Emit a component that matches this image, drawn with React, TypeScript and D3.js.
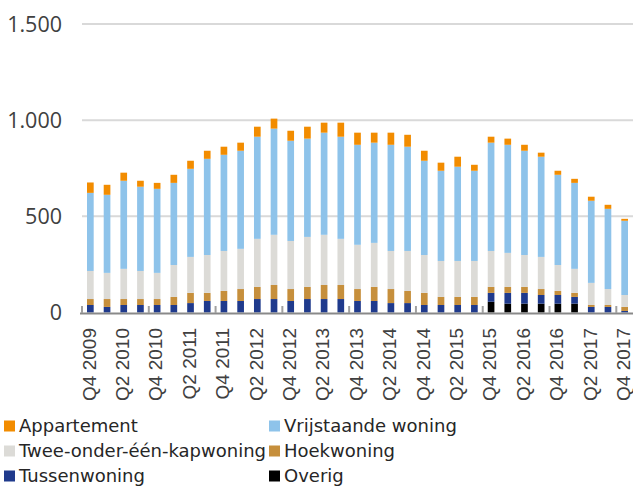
import React, { useRef, useEffect } from "react";
import * as d3 from "d3";

// quarters Q4 2009 .. Q4 2017
const quarters: string[] = [];
for (let y = 2009; y <= 2017; y++) {
  for (let q = 1; q <= 4; q++) {
    if (y === 2009 && q < 4) continue;
    quarters.push(`Q${q} ${y}`);
  }
}

// series values (bottom to top in the stack)
const overig = [0, 0, 0, 0, 0, 0, 0, 0, 0, 0, 0, 0, 0, 0, 0, 0, 0, 0, 0, 0, 0, 0, 0, 0, 56, 46, 46, 46, 46, 46, 0, 0, 0];
const tussenwoning = [39, 29, 39, 39, 39, 39, 49, 60, 60, 60, 70, 70, 60, 70, 70, 70, 60, 60, 49, 49, 39, 39, 39, 39, 46, 56, 56, 45, 45, 35, 29, 29, 8];
const hoekwoning = [31, 41, 31, 31, 31, 42, 53, 42, 52, 62, 63, 73, 62, 63, 73, 73, 62, 73, 73, 63, 63, 42, 42, 42, 31, 31, 31, 31, 21, 21, 10, 10, 21];
const tweeOnderEenKap = [146, 136, 157, 146, 136, 166, 187, 197, 208, 209, 250, 261, 250, 260, 261, 240, 230, 229, 198, 208, 197, 187, 187, 187, 187, 177, 166, 167, 135, 125, 115, 83, 62];
const vrijstaand = [406, 406, 458, 438, 437, 427, 458, 500, 500, 510, 531, 552, 521, 511, 531, 531, 520, 521, 552, 542, 490, 469, 490, 469, 563, 562, 542, 521, 469, 447, 427, 417, 386];
const appartement = [54, 52, 42, 31, 31, 42, 42, 42, 42, 42, 52, 52, 52, 62, 52, 73, 63, 52, 63, 62, 52, 42, 52, 31, 31, 32, 31, 21, 21, 21, 21, 21, 10];

const yTicks = [0, 500, 1000, 1500];

const seriesKeys = ["Overig", "Tussenwoning", "Hoekwoning", "Twee-onder-één-kapwoning", "Vrijstaande woning", "Appartement"];
const seriesColors: Record<string, string> = {
  Overig: "#000000",
  Tussenwoning: "#1f3a8c",
  Hoekwoning: "#c68f3c",
  "Twee-onder-één-kapwoning": "#dcdbd7",
  "Vrijstaande woning": "#8ec3ea",
  Appartement: "#f28c00",
};
// legend order as in the picture (row by row)
const legendOrder = ["Appartement", "Vrijstaande woning", "Twee-onder-één-kapwoning", "Hoekwoning", "Tussenwoning", "Overig"];

const App = () => {
  const svgRef = useRef<SVGSVGElement>(null);

  useEffect(() => {
    const svg = d3.select(svgRef.current);
    const width = 633;
    const height = 486;
    svg.attr("width", width).attr("height", height);
    svg.selectAll("*").remove();

    const rows = quarters.map((q, i) => ({
      q,
      Overig: overig[i],
      Tussenwoning: tussenwoning[i],
      Hoekwoning: hoekwoning[i],
      "Twee-onder-één-kapwoning": tweeOnderEenKap[i],
      "Vrijstaande woning": vrijstaand[i],
      Appartement: appartement[i],
    }));

    const stacked = d3.stack<any>().keys(seriesKeys)(rows);

    const x = d3.scaleBand().domain(quarters).range([82, 633]).paddingInner(0.6).paddingOuter(0.3);
    const y = d3.scaleLinear().domain([0, 1500]).range([312.5, 24]);

    const nl = d3.formatLocale({ decimal: ",", thousands: ".", grouping: [3], currency: ["€", ""] });
    const fmt = nl.format(",");

    // gridlines
    svg
      .append("g")
      .selectAll("line")
      .data(yTicks.filter((d) => d > 0))
      .join("line")
      .attr("x1", 82)
      .attr("x2", width)
      .attr("y1", (d) => y(d))
      .attr("y2", (d) => y(d))
      .attr("stroke", "#d9d9d9")
      .attr("stroke-width", 2);

    // y labels
    svg
      .append("g")
      .selectAll("text")
      .data(yTicks)
      .join("text")
      .attr("x", 62)
      .attr("y", (d) => y(d))
      .attr("dy", "0.36em")
      .attr("text-anchor", "end")
      .attr("font-family", "Open Sans")
      .attr("font-size", 21.5)
      .attr("fill", "#404040")
      .text((d) => fmt(d));

    // bars
    svg
      .append("g")
      .selectAll("g")
      .data(stacked)
      .join("g")
      .attr("fill", (s) => seriesColors[s.key])
      .selectAll("rect")
      .data((s) => s)
      .join("rect")
      .attr("x", (d) => x(d.data.q)!)
      .attr("width", x.bandwidth())
      .attr("y", (d) => y(d[1]))
      .attr("height", (d) => y(d[0]) - y(d[1]));

    // x axis line + tick marks every 4 quarters
    const step = x.step();
    svg
      .append("line")
      .attr("x1", 80)
      .attr("x2", width)
      .attr("y1", 313.5)
      .attr("y2", 313.5)
      .attr("stroke", "#898989")
      .attr("stroke-width", 2);
    const tickIdx = d3.range(0, quarters.length, 4);
    svg
      .append("g")
      .selectAll("line")
      .data(tickIdx)
      .join("line")
      .attr("x1", (i) => 82 + i * step)
      .attr("x2", (i) => 82 + i * step)
      .attr("y1", 306)
      .attr("y2", 313)
      .attr("stroke", "#a0a0a0")
      .attr("stroke-width", 2);

    // x labels every 2 quarters
    svg
      .append("g")
      .selectAll("text")
      .data(quarters.filter((_, i) => i % 2 === 0))
      .join("text")
      .attr("transform", (d) => `translate(${x(d)! + x.bandwidth() / 2},328) rotate(-90)`)
      .attr("dy", "0.28em")
      .attr("text-anchor", "end")
      .attr("font-family", "Liberation Sans")
      .attr("font-size", 19)
      .attr("fill", "#404040")
      .text((d) => d);

    // legend
    const legend = svg
      .append("g")
      .selectAll("g")
      .data(legendOrder)
      .join("g")
      .attr("transform", (d, i) => `translate(${i % 2 === 0 ? 4 : 269},${426 + Math.floor(i / 2) * 25})`);
    legend
      .append("rect")
      .attr("x", 0)
      .attr("y", -5.5)
      .attr("width", 11)
      .attr("height", 11)
      .attr("fill", (d) => seriesColors[d]);
    legend
      .append("text")
      .attr("x", 15)
      .attr("y", 0)
      .attr("dy", "0.36em")
      .attr("font-family", "DejaVu Sans")
      .attr("font-size", 18)
      .attr("fill", "#262626")
      .text((d) => d);
  }, []);

  return (
    <div style={{ position: "absolute", left: 0, top: 0, background: "#fff" }}>
      <svg ref={svgRef} style={{ display: "block" }}></svg>
    </div>
  );
};

export default App;
